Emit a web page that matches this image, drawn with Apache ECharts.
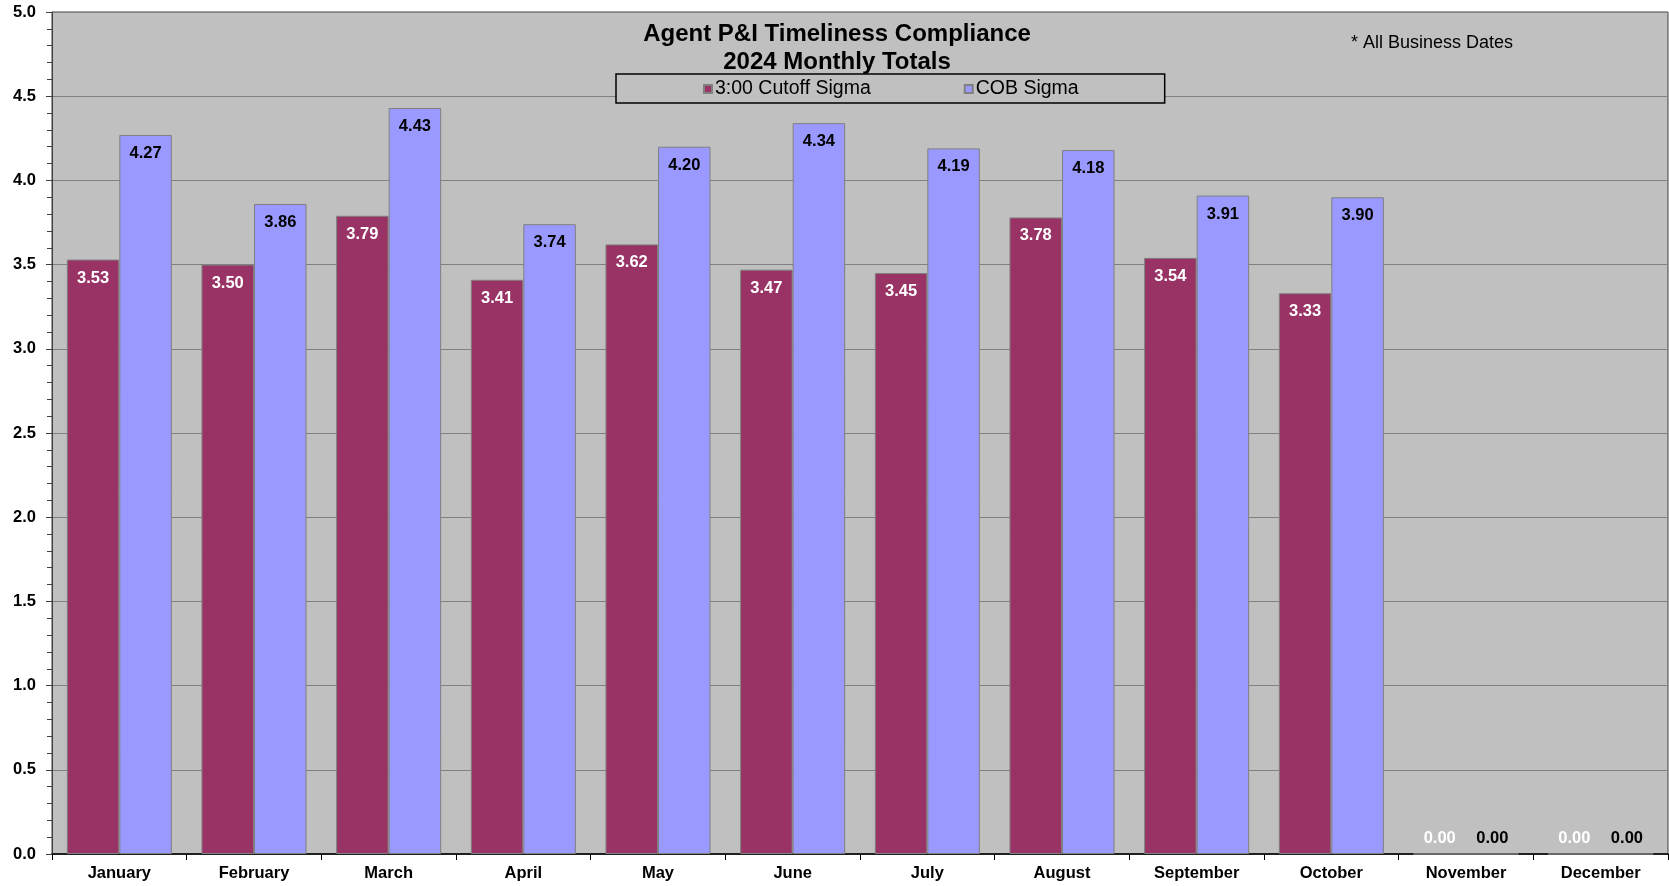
<!DOCTYPE html>
<html>
<head>
<meta charset="utf-8">
<style>
  html, body { margin: 0; padding: 0; background: #ffffff; }
  #chart { width: 1669px; height: 886px; }
</style>
<script src="https://cdn.jsdelivr.net/npm/echarts@6/dist/echarts.min.js"></script>
</head>
<body>
<div id="chart"></div>
<script>
// Monthly sigma values for 2024
const months = ['January', 'February', 'March', 'April', 'May', 'June',
  'July', 'August', 'September', 'October', 'November', 'December'];
const cutoffSigma = [3.53, 3.50, 3.79, 3.41, 3.62, 3.47, 3.45, 3.78, 3.54, 3.33, 0.00, 0.00];
const cobSigma = [4.27, 3.86, 4.43, 3.74, 4.20, 4.34, 4.19, 4.18, 3.91, 3.90, 0.00, 0.00];
const seriesNames = ['3:00 Cutoff Sigma', 'COB Sigma'];

const FONT = '"Liberation Sans", Arial, sans-serif';

// Zero-height bars carry their label above the baseline instead of inside.
function barData(values) {
  return values.map(v => v === 0
    ? { value: v, label: { position: 'top', distance: 7 } }
    : v);
}

function barLabel(color) {
  return {
    show: true,
    position: 'insideTop',
    distance: 10,
    color: color,
    fontFamily: FONT,
    fontWeight: 'bold',
    fontSize: 16.5,
    formatter: p => Number(p.value).toFixed(2)
  };
}

const chart = echarts.init(document.getElementById('chart'), null, { renderer: 'canvas' });
chart.setOption({
  animation: false,
  backgroundColor: '#ffffff',
  title: {
    text: 'Agent P&I Timeliness Compliance\n2024 Monthly Totals',
    left: 837,
    top: 20,
    padding: 0,
    textAlign: 'center',
    textStyle: {
      fontFamily: FONT, fontWeight: 'bold', fontSize: 24,
      lineHeight: 28, color: '#000000'
    }
  },
  graphic: [{
    type: 'text',
    left: 1351,
    top: 34,
    style: {
      text: '* All Business Dates',
      fontFamily: FONT, fontSize: 18, fill: '#000000'
    }
  }],
  legend: {
    data: seriesNames,
    left: 616,
    top: 74,
    orient: 'horizontal',
    padding: [5, 86, 4, 87],
    itemGap: 93,
    itemWidth: 8,
    itemHeight: 8,
    icon: 'rect',
    borderColor: '#000000',
    borderWidth: 1.5,
    backgroundColor: '#c0c0c0',
    textStyle: { fontFamily: FONT, fontSize: 19.5, color: '#000000', padding: [0, 0, 0, -2] }
  },
  grid: {
    left: 52, right: 1, top: 12, bottom: 32,
    show: true,
    backgroundColor: '#c0c0c0',
    borderColor: '#404040',
    borderWidth: 1
  },
  xAxis: {
    type: 'category',
    data: months,
    axisLine: { lineStyle: { color: '#000000', width: 1.5 } },
    axisTick: { show: true, length: 6, lineStyle: { color: '#000000' } },
    axisLabel: {
      fontFamily: FONT, fontWeight: 'bold', fontSize: 16.5,
      color: '#000000', margin: 11
    }
  },
  yAxis: {
    type: 'value',
    min: 0, max: 5, interval: 0.5,
    axisLine: { show: true, lineStyle: { color: '#404040' } },
    axisTick: { show: true, length: 6, lineStyle: { color: '#404040' } },
    minorTick: { show: true, splitNumber: 5, length: 5, lineStyle: { color: '#404040' } },
    splitLine: { lineStyle: { color: '#808080', width: 1 } },
    axisLabel: {
      fontFamily: FONT, fontWeight: 'bold', fontSize: 16.5,
      color: '#000000', margin: 16,
      formatter: v => v.toFixed(1)
    }
  },
  series: [
    {
      name: seriesNames[0],
      type: 'bar',
      data: barData(cutoffSigma),
      barGap: '0%',
      barCategoryGap: '22%',
      itemStyle: { color: '#993366', borderColor: '#808080', borderWidth: 1 },
      label: barLabel('#ffffff')
    },
    {
      name: seriesNames[1],
      type: 'bar',
      data: barData(cobSigma),
      barGap: '0%',
      barCategoryGap: '22%',
      itemStyle: { color: '#9999ff', borderColor: '#808080', borderWidth: 1 },
      label: barLabel('#000000')
    }
  ]
});
</script>
</body>
</html>
